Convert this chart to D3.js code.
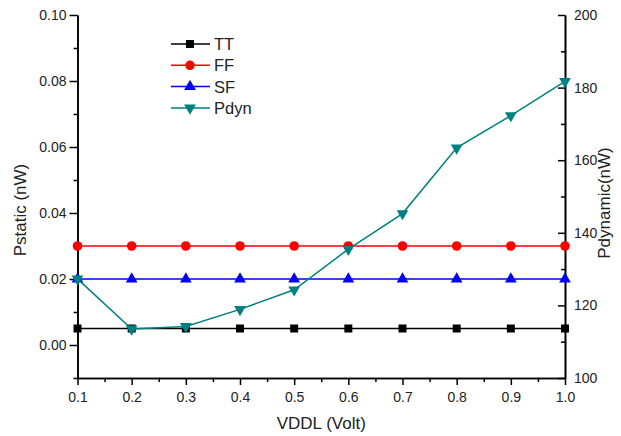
<!DOCTYPE html>
<html>
<head>
<meta charset="utf-8">
<script src="https://cdn.jsdelivr.net/npm/d3@7"></script>
<style>
  body { margin: 0; background: #fff; }
  text { font-family: "Liberation Sans", Arial, sans-serif; }
</style>
</head>
<body>
<script>
// chart values
const vddl = [0.1, 0.2, 0.3, 0.4, 0.5, 0.6, 0.7, 0.8, 0.9, 1.0];
const tt = [0.005, 0.005, 0.005, 0.005, 0.005, 0.005, 0.005, 0.005, 0.005, 0.005];
const ff = [0.03, 0.03, 0.03, 0.03, 0.03, 0.03, 0.03, 0.03, 0.03, 0.03];
const sf = [0.02, 0.02, 0.02, 0.02, 0.02, 0.02, 0.02, 0.02, 0.02, 0.02];
const pdyn = [127.3, 113.5, 114.2, 118.9, 124.3, 135.5, 145.3, 163.4, 172.3, 181.7];

const xTicks = [0.1, 0.2, 0.3, 0.4, 0.5, 0.6, 0.7, 0.8, 0.9, 1.0];
const xMinor = [0.15, 0.25, 0.35, 0.45, 0.55, 0.65, 0.75, 0.85, 0.95];
const leftTicks = [0, 0.02, 0.04, 0.06, 0.08, 0.10];
const leftMinor = [-0.01, 0.01, 0.03, 0.05, 0.07, 0.09];
const rightTicks = [100, 120, 140, 160, 180, 200];
const rightMinor = [110, 130, 150, 170, 190];

const width = 621;
const height = 436;
const margin = { top: 15, right: 56, bottom: 58, left: 77.5 };

const svg = d3.select("body")
  .append("svg")
  .attr("width", width)
  .attr("height", height);

const x = d3.scaleLinear()
  .domain([0.1, 1.0])
  .range([margin.left, width - margin.right]);

const yLeft = d3.scaleLinear()
  .domain([-0.01, 0.10])
  .range([height - margin.bottom, margin.top]);

const yRight = d3.scaleLinear()
  .domain([100, 200])
  .range([height - margin.bottom, margin.top]);

function styleAxis(g) {
  g.selectAll("path").attr("stroke", "#000").attr("stroke-width", 1.6);
  g.selectAll("line").attr("stroke", "#000").attr("stroke-width", 1.5);
  g.selectAll("text").attr("font-size", 14).attr("fill", "#222");
}

// bottom axis
svg.append("g")
  .attr("transform", `translate(0, ${height - margin.bottom})`)
  .call(d3.axisBottom(x).tickValues(xMinor).tickFormat("").tickSize(4).tickSizeOuter(0))
  .call(styleAxis);
svg.append("g")
  .attr("transform", `translate(0, ${height - margin.bottom})`)
  .call(d3.axisBottom(x).tickValues(xTicks).tickFormat(d3.format(".1f")).tickSize(7).tickSizeOuter(0).tickPadding(7))
  .call(styleAxis);

// left axis
svg.append("g")
  .attr("transform", `translate(${margin.left}, 0)`)
  .call(d3.axisLeft(yLeft).tickValues(leftMinor).tickFormat("").tickSize(4).tickSizeOuter(0))
  .call(styleAxis);
svg.append("g")
  .attr("transform", `translate(${margin.left}, 0)`)
  .call(d3.axisLeft(yLeft).tickValues(leftTicks).tickFormat(d3.format(".2f")).tickSize(8).tickSizeOuter(0).tickPadding(3))
  .call(styleAxis);

// right axis (ticks point inward)
const xr = width - margin.right;
svg.append("g")
  .attr("transform", `translate(${xr}, 0)`)
  .call(d3.axisRight(yRight).tickValues(rightMinor).tickFormat("").tickSizeInner(-4).tickSizeOuter(0))
  .call(styleAxis);
svg.append("g")
  .attr("transform", `translate(${xr}, 0)`)
  .call(d3.axisRight(yRight).tickValues(rightTicks).tickFormat(d3.format("d")).tickSizeInner(-7).tickSizeOuter(0).tickPadding(9))
  .call(styleAxis);

// axis titles
svg.append("text")
  .attr("x", (margin.left + xr) / 2)
  .attr("y", 429)
  .attr("text-anchor", "middle")
  .attr("font-size", 17)
  .attr("fill", "#222")
  .text("VDDL (Volt)");

svg.append("text")
  .attr("transform", "translate(26, 210) rotate(-90)")
  .attr("text-anchor", "middle")
  .attr("font-size", 17)
  .attr("fill", "#222")
  .text("Pstatic (nW)");

svg.append("text")
  .attr("transform", "translate(610, 203) rotate(-90)")
  .attr("text-anchor", "middle")
  .attr("font-size", 17)
  .attr("fill", "#222")
  .text("Pdynamic(nW)");

// series
const series = [
  { name: "TT", values: tt, scale: yLeft, color: "#000000", symbol: d3.symbolSquare, size: 64, rot: 0 },
  { name: "FF", values: ff, scale: yLeft, color: "#ff0000", symbol: d3.symbolCircle, size: 72, rot: 0 },
  { name: "SF", values: sf, scale: yLeft, color: "#0000ff", symbol: d3.symbolTriangle, size: 60, rot: 0 },
  { name: "Pdyn", values: pdyn, scale: yRight, color: "#008080", symbol: d3.symbolTriangle, size: 60, rot: 180 }
];

const line = (s) => d3.line()
  .x((d, i) => x(vddl[i]))
  .y(d => s.scale(d));

series.forEach(s => {
  const g = svg.append("g");
  g.append("path")
    .attr("d", line(s)(s.values))
    .attr("fill", "none")
    .attr("stroke", s.color)
    .attr("stroke-width", 1.5);
  g.selectAll("path.mark")
    .data(s.values)
    .enter()
    .append("path")
    .attr("class", "mark")
    .attr("d", d3.symbol().type(s.symbol).size(s.size))
    .attr("transform", (d, i) => `translate(${x(vddl[i])}, ${s.scale(d)}) rotate(${s.rot})`)
    .attr("fill", s.color);
});

// legend
const legend = svg.append("g");
series.forEach((s, i) => {
  const ly = 44 + i * 21.3;
  legend.append("line")
    .attr("x1", 171).attr("x2", 210)
    .attr("y1", ly).attr("y2", ly)
    .attr("stroke", s.color)
    .attr("stroke-width", 1.5);
  legend.append("path")
    .attr("d", d3.symbol().type(s.symbol).size(s.size))
    .attr("transform", `translate(190, ${ly}) rotate(${s.rot})`)
    .attr("fill", s.color);
  legend.append("text")
    .attr("x", 214)
    .attr("y", ly)
    .attr("dy", "0.36em")
    .attr("font-size", 16.5)
    .attr("fill", "#222")
    .text(s.name);
});
</script>
</body>
</html>
